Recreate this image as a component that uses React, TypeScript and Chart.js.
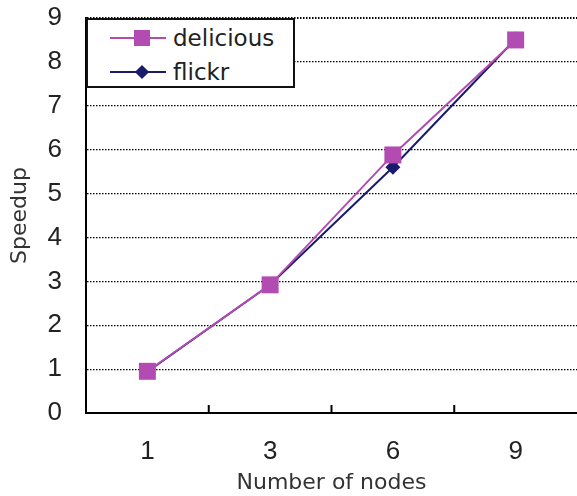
import React, { useEffect, useRef } from "react";
import { Chart, registerables } from "chart.js";

Chart.register(...registerables);

const categories = ["1", "3", "6", "9"];
const deliciousValues = [0.95, 2.92, 5.88, 8.5];
const flickrValues = [0.94, 2.92, 5.6, 8.52];
const yTickMin = 0;
const yTickMax = 9;
const yTickStep = 1;

const MAGENTA = "#B24CB2";
const NAVY = "#1B1B6E";
const TEXT_FONT = "'DejaVu Sans', sans-serif";
const TICK_FONT = "'Liberation Sans', Arial, sans-serif";

const innerTicks = {
  id: "innerTicks",
  beforeDatasetsDraw(chart: any) {
    const xs = chart.scales.x;
    const ctx = chart.ctx;
    ctx.save();
    ctx.strokeStyle = "#000";
    ctx.lineWidth = 2;
    for (let i = 1; i < categories.length; i++) {
      const px = (xs.getPixelForValue(i - 1) + xs.getPixelForValue(i)) / 2;
      ctx.beginPath();
      ctx.moveTo(px, xs.top);
      ctx.lineTo(px, xs.top - 8);
      ctx.stroke();
    }
    ctx.restore();
  },
};

export default function App() {
  const ref = useRef<HTMLCanvasElement | null>(null);

  useEffect(() => {
    if (!ref.current) return;
    const chart = new Chart(ref.current, {
      type: "line",
      data: {
        labels: categories,
        datasets: [
          {
            label: "delicious",
            data: deliciousValues,
            borderColor: MAGENTA,
            backgroundColor: MAGENTA,
            borderWidth: 2,
            pointStyle: "rect",
            pointRadius: 12,
            pointBorderWidth: 0,
            tension: 0,
          },
          {
            label: "flickr",
            data: flickrValues,
            borderColor: NAVY,
            backgroundColor: NAVY,
            borderWidth: 2,
            pointStyle: "rectRot",
            pointRadius: 7.5,
            pointBorderWidth: 0,
            tension: 0,
          },
        ],
      },
      options: {
        animation: false,
        responsive: false,
        devicePixelRatio: 1,
        layout: { autoPadding: false, padding: { top: 18, left: 0, right: 0, bottom: 0 } },
        plugins: {
          legend: { display: false },
          tooltip: { enabled: false },
        },
        scales: {
          x: {
            type: "category",
            offset: true,
            afterFit: (s: any) => {
              s.height = 83;
              s.paddingLeft = 0;
              s.paddingRight = 0;
              s.paddingTop = 0;
              s.paddingBottom = 0;
            },
            grid: { display: true, drawOnChartArea: false, drawTicks: false, offset: true },
            border: { display: true, color: "#000", width: 2 },
            ticks: {
              padding: 23,
              color: "#222",
              font: { family: TICK_FONT, size: 26 },
            },
            title: {
              display: true,
              text: "Number of nodes",
              color: "#333",
              padding: { top: 0, bottom: 0 },
              font: { family: TEXT_FONT, size: 22 },
            },
          },
          y: {
            min: yTickMin,
            max: yTickMax,
            afterFit: (s: any) => {
              s.width = 86;
              s.paddingLeft = 0;
              s.paddingRight = 0;
              s.paddingTop = 0;
              s.paddingBottom = 0;
            },
            ticks: {
              stepSize: yTickStep,
              padding: 24,
              color: "#222",
              font: { family: TICK_FONT, size: 26 },
            },
            grid: {
              color: "#000",
              drawTicks: false,
              lineWidth: (c: any) => (c.tick && c.tick.value === yTickMax ? 2 : 1.2),
            },
            border: { display: true, color: "#000", width: 2, dash: [1.5, 1.5] },
            title: {
              display: true,
              text: "Speedup",
              color: "#333",
              padding: { top: 7, bottom: 0 },
              font: { family: TEXT_FONT, size: 22 },
            },
          },
        },
      },
      plugins: [innerTicks],
    });
    return () => chart.destroy();
  }, []);

  const itemStyle: React.CSSProperties = {
    position: "absolute",
    left: 0,
    height: 30,
    display: "flex",
    alignItems: "center",
  };

  return (
    <div
      style={{
        position: "fixed",
        left: 0,
        top: 0,
        width: 577,
        height: 496,
        background: "#fff",
        overflow: "hidden",
      }}
    >
      <canvas ref={ref} width={577} height={496} style={{ width: 577, height: 496, display: "block" }} />
      <div
        style={{
          position: "absolute",
          left: 86,
          top: 18,
          width: 209,
          height: 70,
          boxSizing: "border-box",
          border: "2px solid #111",
          background: "#fff",
          fontFamily: TEXT_FONT,
          fontSize: 23,
          color: "#222",
        }}
      >
        <div style={{ ...itemStyle, top: 3 }}>
          <div style={{ position: "relative", width: 56, height: 30, marginLeft: 22 }}>
            <div style={{ position: "absolute", left: 0, right: 0, top: 14, height: 2, background: MAGENTA }} />
            <div style={{ position: "absolute", left: 24, top: 7, width: 16, height: 16, background: MAGENTA }} />
          </div>
          <span style={{ marginLeft: 7, lineHeight: "30px" }}>delicious</span>
        </div>
        <div style={{ ...itemStyle, top: 37 }}>
          <div style={{ position: "relative", width: 56, height: 30, marginLeft: 22 }}>
            <div style={{ position: "absolute", left: 0, right: 0, top: 14, height: 2, background: NAVY }} />
            <div
              style={{
                position: "absolute",
                left: 27,
                top: 10,
                width: 10,
                height: 10,
                background: NAVY,
                transform: "rotate(45deg)",
              }}
            />
          </div>
          <span style={{ marginLeft: 7, lineHeight: "30px" }}>flickr</span>
        </div>
      </div>
    </div>
  );
}
